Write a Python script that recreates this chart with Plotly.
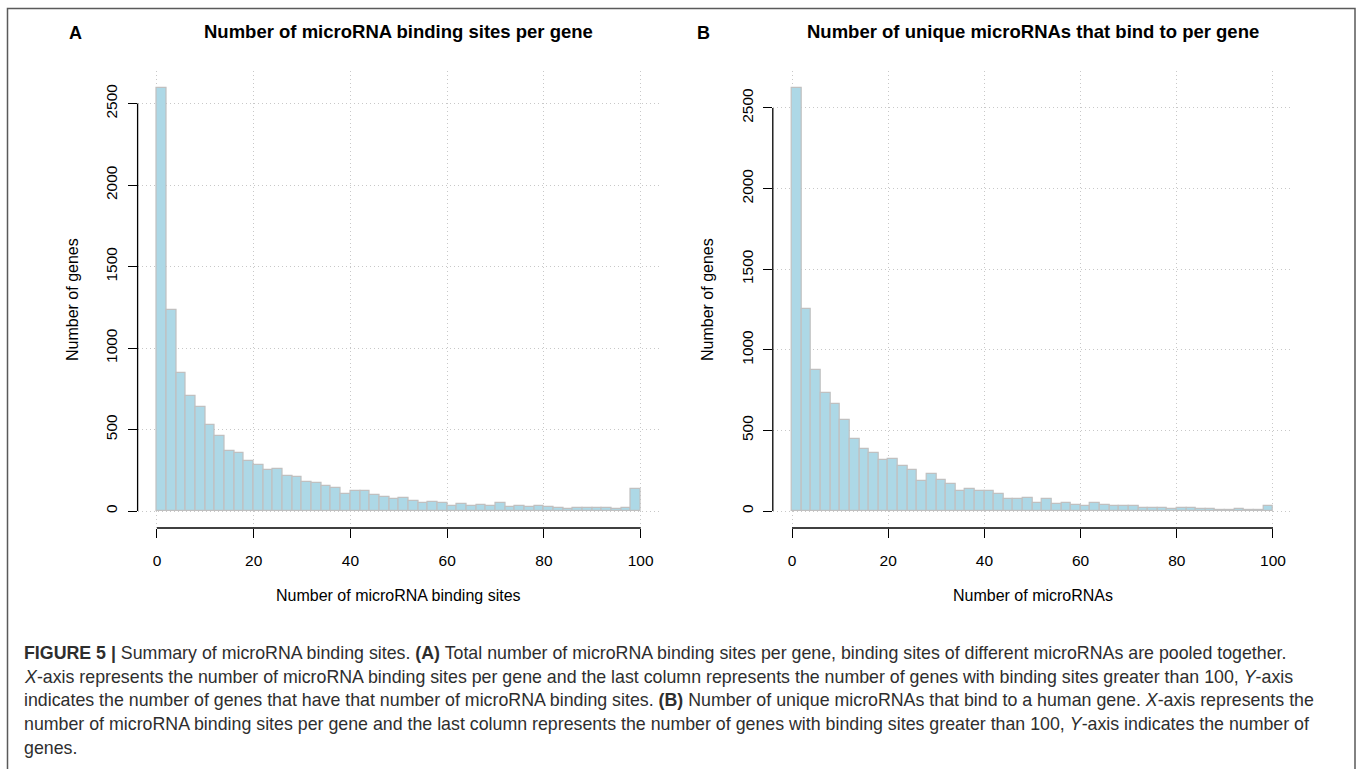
import plotly.graph_objects as go

# ---- data ----
bin_left = list(range(0, 100, 2))  # bins of width 2, last bin = genes with >100
sites_counts = [2596, 1233, 850, 705, 636, 525, 458, 370, 358, 305,
                280, 251, 255, 217, 206, 176, 172, 155, 139, 104,
                121, 121, 98, 84, 71, 78, 63, 49, 53, 47,
                33, 43, 33, 37, 29, 47, 27, 33, 24, 33,
                22, 16, 12, 20, 16, 16, 16, 12, 20, 137]
unique_counts = [2624, 1252, 876, 733, 661, 564, 448, 386, 359, 314,
                 324, 281, 252, 184, 231, 192, 167, 126, 138, 122,
                 122, 103, 76, 72, 81, 52, 77, 41, 52, 37,
                 29, 52, 37, 29, 29, 29, 17, 21, 17, 12,
                 19, 19, 10, 15, 6, 4, 10, 4, 6, 33]
bin_width = 2
x_ticks = [0, 20, 40, 60, 80, 100]
y_ticks = [0, 500, 1000, 1500, 2000, 2500]

titles = ["Number of microRNA binding sites per gene",
          "Number of unique microRNAs that bind to per gene"]
xlabels = ["Number of microRNA binding sites", "Number of microRNAs"]
ylabel = "Number of genes"
panel_letters = ["A", "B"]

caption_lines = [
    "<b>FIGURE 5 |</b> Summary of microRNA binding sites. <b>(A)</b> Total number of microRNA binding sites per gene, binding sites of different microRNAs are pooled together.",
    "<i>X</i>-axis represents the number of microRNA binding sites per gene and the last column represents the number of genes with binding sites greater than 100, <i>Y</i>-axis",
    "indicates the number of genes that have that number of microRNA binding sites. <b>(B)</b> Number of unique microRNAs that bind to a human gene. <i>X</i>-axis represents the",
    "number of microRNA binding sites per gene and the last column represents the number of genes with binding sites greater than 100, <i>Y</i>-axis indicates the number of",
    "genes.",
]

W, H = 1357, 769
FONT = "Liberation Sans, Arial, Helvetica, sans-serif"

def px_x(p):
    return p / W

def px_y(p):
    return 1 - p / H

fig = go.Figure()
centers = [b + bin_width / 2 for b in bin_left]
for i, counts in enumerate([sites_counts, unique_counts]):
    fig.add_trace(go.Bar(
        x=centers, y=counts, width=bin_width,
        marker=dict(color="#add8e6", line=dict(color="#c0c0c0", width=1.2)),
        xaxis="x" if i == 0 else "x2", yaxis="y" if i == 0 else "y2",
        showlegend=False, hoverinfo="x+y",
    ))

xdomains = [[px_x(137.6), px_x(660.0)], [px_x(772.8), px_x(1292.2)]]
ydom = [px_y(528), px_y(71)]
yranges = [[-104, 2700], [-105, 2729]]

axis_common = dict(
    showline=False, zeroline=False, showgrid=True,
    gridcolor="#c8c8c8", griddash="1px,3px", gridwidth=1,
    ticks="outside", ticklen=9, tickwidth=1.2, tickcolor="black",
    tickfont=dict(family=FONT, size=15.5, color="black"),
)

for i in range(2):
    sfx = "" if i == 0 else "2"
    fig.update_layout(**{
        "xaxis" + sfx: dict(axis_common, domain=xdomains[i], range=[-4, 104],
                            tickvals=x_ticks, anchor="y" + sfx,
                            ticklabelstandoff=9),
        "yaxis" + sfx: dict(axis_common, domain=ydom, range=yranges[i],
                            tickvals=y_ticks, anchor="x" + sfx,
                            tickangle=-90, ticklabelstandoff=4),
    })

shapes = []
annotations = []
for i in range(2):
    sfx = "" if i == 0 else "2"
    xr = "x" + sfx
    yr = "y" + sfx
    # R-style axis lines spanning first to last tick
    shapes.append(dict(type="line", xref=xr, yref="paper",
                       x0=x_ticks[0], x1=x_ticks[-1], y0=ydom[0], y1=ydom[0],
                       line=dict(color="black", width=1.3)))
    shapes.append(dict(type="line", xref="paper", yref=yr,
                       x0=xdomains[i][0], x1=xdomains[i][0],
                       y0=y_ticks[0], y1=y_ticks[-1],
                       line=dict(color="black", width=1.3)))
    cx = (xdomains[i][0] + xdomains[i][1]) / 2
    annotations.append(dict(text="<b>" + titles[i] + "</b>", x=cx, y=px_y(32),
                            xref="paper", yref="paper",
                            showarrow=False, xanchor="center", yanchor="middle",
                            font=dict(family=FONT, size=18.5, color="black")))
    annotations.append(dict(text="<b>" + panel_letters[i] + "</b>",
                            x=px_x([75, 703][i]), y=px_y(33), xref="paper", yref="paper",
                            showarrow=False, xanchor="center", yanchor="middle",
                            font=dict(family=FONT, size=18, color="black")))
    annotations.append(dict(text=xlabels[i], x=cx, y=px_y(595), xref="paper", yref="paper",
                            showarrow=False, xanchor="center", yanchor="middle",
                            font=dict(family=FONT, size=16, color="black")))
    annotations.append(dict(text=ylabel, x=px_x([72, 707][i]), y=px_y(300),
                            xref="paper", yref="paper", textangle=-90,
                            showarrow=False, xanchor="center", yanchor="middle",
                            font=dict(family=FONT, size=16, color="black")))

# outer frame
shapes.append(dict(type="rect", xref="paper", yref="paper",
                   x0=px_x(7.5), x1=px_x(1355), y0=-0.05, y1=px_y(8.5),
                   line=dict(color="#5a5a5a", width=1.5)))

caption_y = [653, 677, 700, 724, 748]
for line, yy in zip(caption_lines, caption_y):
    annotations.append(dict(text=line, x=px_x(22), y=px_y(yy), xref="paper", yref="paper",
                            showarrow=False, xanchor="left", yanchor="middle",
                            font=dict(family=FONT, size=17.8, color="#2e2e2e")))

fig.update_layout(
    width=W, height=H, margin=dict(l=0, r=0, t=0, b=0),
    paper_bgcolor="white", plot_bgcolor="white",
    bargap=0, shapes=shapes, annotations=annotations,
)

fig.write_html("out.html", config={"displayModeBar": False},
               post_script="document.body.style.margin='0px';document.body.style.overflow='hidden';")
